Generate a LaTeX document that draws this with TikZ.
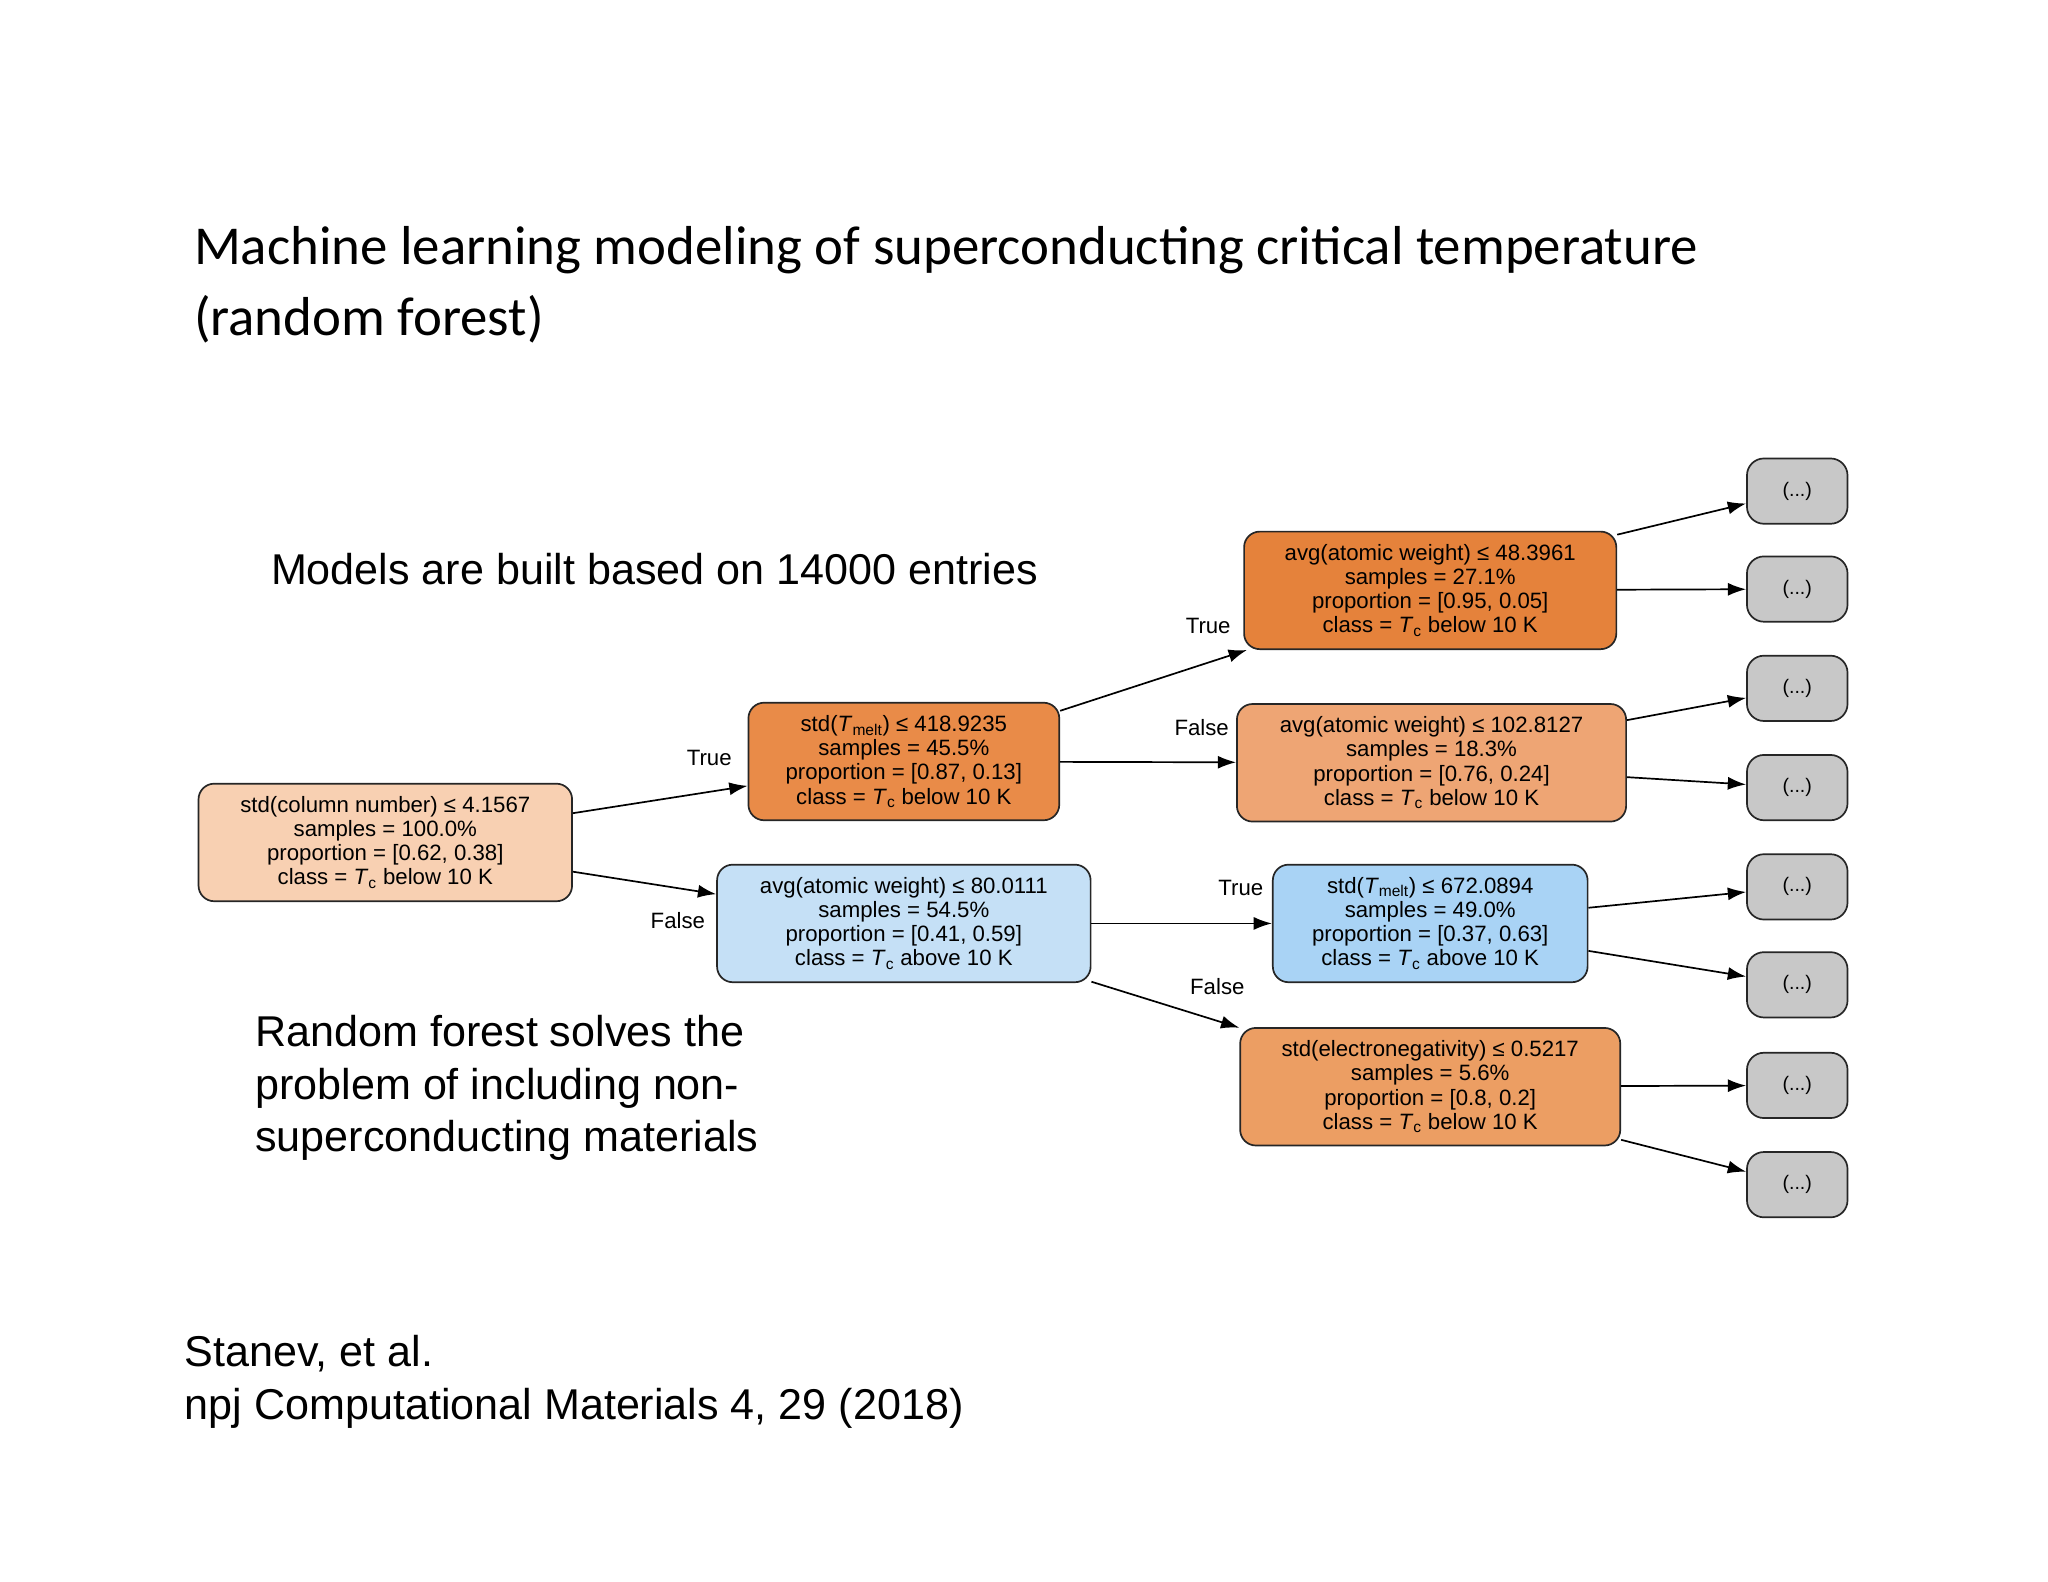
\documentclass[tikz,border=0pt]{standalone}
\usepackage{fontspec}
\setmainfont{Liberation Sans}
\newfontfamily\titlefont{Carlito}
\usetikzlibrary{arrows.meta}
\definecolor{rootc}{HTML}{F8D0B2}
\definecolor{orB}{HTML}{E98B48}
\definecolor{orD}{HTML}{E5823B}
\definecolor{orE}{HTML}{EEA574}
\definecolor{orG}{HTML}{EC9E63}
\definecolor{blC}{HTML}{C5E0F6}
\definecolor{blF}{HTML}{A9D3F5}
\definecolor{leafc}{HTML}{C8C8C8}
\tikzset{
 tnode/.style={draw=black!85,line width=1.3pt,rounded corners=12pt,align=center,
   font=\fontsize{17}{18.5}\selectfont,inner sep=0pt,minimum height=90pt},
 leaf/.style={draw=black!85,line width=1.3pt,rounded corners=13pt,fill=leafc,
   minimum width=77pt,minimum height=50pt,font=\fontsize{15}{16}\selectfont,inner sep=0pt},
 edge/.style={line width=1.3pt,-{Latex[length=14pt,width=10pt]}},
 elab/.style={font=\fontsize{17}{18}\selectfont},
 body/.style={font=\fontsize{33}{40}\selectfont,align=left,anchor=west}
}
\newcommand{\Tc}{\textit{T}\textsubscript{c}}
\begin{document}
\begin{tikzpicture}[x=1pt,y=-1pt]
\useasboundingbox[fill=white] (0,0) rectangle (1568,1211);
\node[anchor=west,font=\titlefont\fontsize{42}{55}\selectfont,align=left] (title) at (145,218)
 {Machine learning modeling of superconducting critical temperature\\(random forest)};
\node[body] (t1) at (204,436) {Models are built based on 14000 entries};
\node[body] (t2) at (192,833) {Random forest solves the\\problem of including non-\\superconducting materials};
\node[body] (t3) at (138,1058) {Stanev, et al.\\npj Computational Materials 4, 29 (2018)};

\node[tnode,fill=rootc,minimum width=286pt] (root) at (295,645)
 {std(column number) ≤ 4.1567\\samples = 100.0\%\\proportion = [0.62, 0.38]\\class = \Tc{} below 10 K};
\node[tnode,fill=orB,minimum width=238pt] (B) at (692,583)
 {std(\textit{T}\textsubscript{melt}) ≤ 418.9235\\samples = 45.5\%\\proportion = [0.87, 0.13]\\class = \Tc{} below 10 K};
\node[tnode,fill=blC,minimum width=286pt] (C) at (692,707)
 {avg(atomic weight) ≤ 80.0111\\samples = 54.5\%\\proportion = [0.41, 0.59]\\class = \Tc{} above 10 K};
\node[tnode,fill=orD,minimum width=285pt] (D) at (1095,452)
 {avg(atomic weight) ≤ 48.3961\\samples = 27.1\%\\proportion = [0.95, 0.05]\\class = \Tc{} below 10 K};
\node[tnode,fill=orE,minimum width=298pt] (E) at (1096,584)
 {avg(atomic weight) ≤ 102.8127\\samples = 18.3\%\\proportion = [0.76, 0.24]\\class = \Tc{} below 10 K};
\node[tnode,fill=blF,minimum width=241pt] (F) at (1095,707)
 {std(\textit{T}\textsubscript{melt}) ≤ 672.0894\\samples = 49.0\%\\proportion = [0.37, 0.63]\\class = \Tc{} above 10 K};
\node[tnode,fill=orG,minimum width=291pt] (G) at (1095,832)
 {std(electronegativity) ≤ 0.5217\\samples = 5.6\%\\proportion = [0.8, 0.2]\\class = \Tc{} below 10 K};

\foreach \i/\y in {1/376,2/451,3/527,4/603,5/679,6/754,7/831,8/907}
  \node[leaf] (L\i) at (1376,\y) {(...)};

\draw[edge] (root) -- (B);
\draw[edge] (root) -- (C);
\draw[edge] (B) -- (D);
\draw[edge] (B) -- (E);
\draw[edge] (C) -- (F);
\draw[edge] (C) -- (G);
\draw[edge] (D.north east) ++(0,3) coordinate (d1) (d1) -- (L1);
\draw[edge] (D) -- (L2);
\draw[edge] (E.north east) ++(0,13) coordinate (e1) (e1) -- (L3);
\draw[edge] (E.east) ++(0,11) coordinate (e2) (e2) -- (L4);
\draw[edge] (F.east) ++(0,-12) coordinate (f1) (f1) -- (L5);
\draw[edge] (F.east) ++(0,21) coordinate (f2) (f2) -- (L6);
\draw[edge] (G) -- (L7);
\draw[edge] (G.south east) ++(0,-5) coordinate (g2) (g2) -- (L8);

\node[elab] (lt1) at (543,580) {True};
\node[elab] (lf1) at (519,705) {False};
\node[elab] (lt2) at (925,479) {True};
\node[elab] (lf2) at (920,557) {False};
\node[elab] (lt3) at (950,680) {True};
\node[elab] (lf3) at (932,755) {False};
\end{tikzpicture}
\end{document}
